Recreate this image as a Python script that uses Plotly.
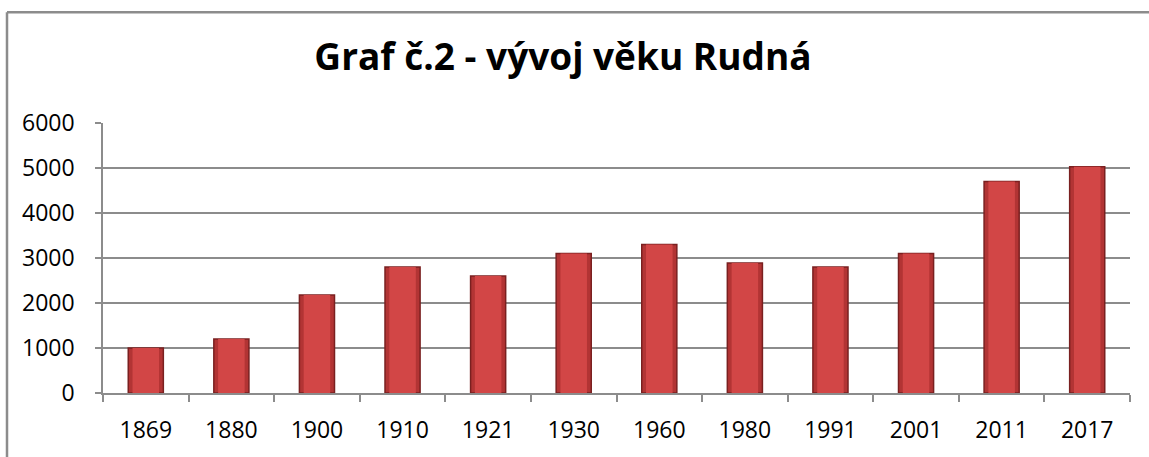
import plotly.graph_objects as go

years = ["1869", "1880", "1900", "1910", "1921", "1930", "1960", "1980", "1991", "2001", "2011", "2017"]
values = [1000, 1200, 2180, 2800, 2600, 3100, 3300, 2890, 2800, 3100, 4700, 5030]
y_ticks = [0, 1000, 2000, 3000, 4000, 5000, 6000]
title_text = "Graf č.2 - vývoj věku Rudná"

W, H = 1149, 457
ml, mr, mt, mb = 103, 19, 123, 60
pw = W - ml - mr
ph = H - mt - mb

fig = go.Figure()
# outer (darker edge) bar
fig.add_trace(go.Bar(
    x=years, y=values,
    marker=dict(color="#B23434", line=dict(color="#7A2020", width=1.5)),
    width=0.41, hoverinfo="skip",
))
# inner lighter face
fig.add_trace(go.Bar(
    x=years, y=values,
    marker=dict(color="#D24646", line=dict(width=0)),
    width=0.31,
))

fx0 = (7 - ml) / pw
fy1 = (H - mb - 10.5) / ph
fy0 = (H - mb - (H + 20)) / ph
fx1 = (W + 20 - ml) / pw
frame = dict(color="#8c8c8c", width=2.5)

fig.update_layout(
    width=W, height=H,
    barmode="overlay",
    margin=dict(l=ml, r=mr, t=mt, b=mb),
    paper_bgcolor="white", plot_bgcolor="white",
    showlegend=False,
    font=dict(family="Open Sans", color="black", size=23),
    title=dict(text="<b>" + title_text + "</b>", x=0.49, xanchor="center",
               y=1 - 57 / H, yanchor="middle",
               font=dict(family="Open Sans", size=37, color="black")),
    xaxis=dict(type="category", showline=True, linecolor="#8c8c8c", linewidth=1.5,
               ticks="outside", ticklen=7, tickcolor="#8c8c8c", tickwidth=1.5,
               tickson="boundaries", showgrid=False, ticklabelstandoff=16,
               tickfont=dict(size=23)),
    yaxis=dict(range=[0, 6000], tickvals=y_ticks, showline=True, linecolor="#8c8c8c",
               linewidth=1.5, ticks="outside", ticklen=6, tickcolor="#8c8c8c",
               tickwidth=1.5, showgrid=True, gridcolor="#8c8c8c", gridwidth=1.5,
               zeroline=False, ticklabelstandoff=16, tickfont=dict(size=23)),
    shapes=[
        dict(type="line", xref="paper", yref="paper", x0=fx0, x1=fx1, y0=fy1, y1=fy1,
             line=frame, layer="below"),
        dict(type="line", xref="paper", yref="paper", x0=fx0, x1=fx0, y0=fy0, y1=fy1,
             line=frame, layer="below"),
    ],
)

fig.write_html("out.html", config={"displayModeBar": False},
               post_script="document.body.style.margin='0';document.body.style.overflow='hidden';")
